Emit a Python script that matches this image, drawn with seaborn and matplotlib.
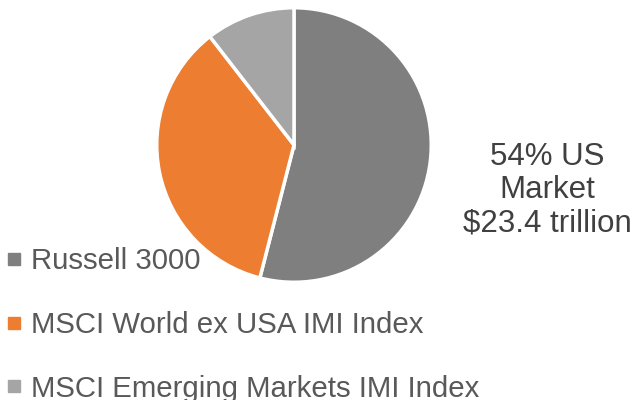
import matplotlib
matplotlib.use("Agg")
import matplotlib.pyplot as plt
import seaborn as sns
from matplotlib.lines import Line2D

# Market cap shares (%)
labels = ["Russell 3000", "MSCI World ex USA IMI Index", "MSCI Emerging Markets IMI Index"]
shares = [54, 35.5, 10.5]
colors = ["#7f7f7f", "#ed7d31", "#a5a5a5"]
note = "54% US\nMarket\n$23.4 trillion"

sns.set_theme(style="white")
plt.rcParams["font.family"] = ["Liberation Sans", "DejaVu Sans"]

fig = plt.figure(figsize=(6.34, 4.0), dpi=100)

# pie axes: centre ~(294,145) px, radius ~140 px
cx, cy, r = 294, 145, 140
ax = fig.add_axes([(cx - r) / 634, (400 - cy - r) / 400, 2 * r / 634, 2 * r / 400])
ax.pie(shares, colors=colors, startangle=90, counterclock=False,
       wedgeprops=dict(edgecolor="white", linewidth=2.5))
ax.set_xlim(-1.02, 1.02)
ax.set_ylim(-1.02, 1.02)
ax.set_aspect("equal")
ax.axis("off")

fig.text(547 / 634, 1 - 190 / 400, note, ha="center", va="center",
         fontsize=22.5, color="#404040", linespacing=1.15)

handles = [Line2D([0], [0], marker="s", linestyle="none", markersize=8,
                  markerfacecolor=c, markeredgecolor=c) for c in colors]
fig.legend(handles, labels, loc="upper left", bbox_to_anchor=(0.0, 1 - 241 / 400),
           frameon=False, fontsize=21.2, labelcolor="#595959",
           handlelength=0.55, handletextpad=0.3, labelspacing=1.22,
           borderaxespad=0, borderpad=0.2)

fig.savefig("out.png", dpi=100)
